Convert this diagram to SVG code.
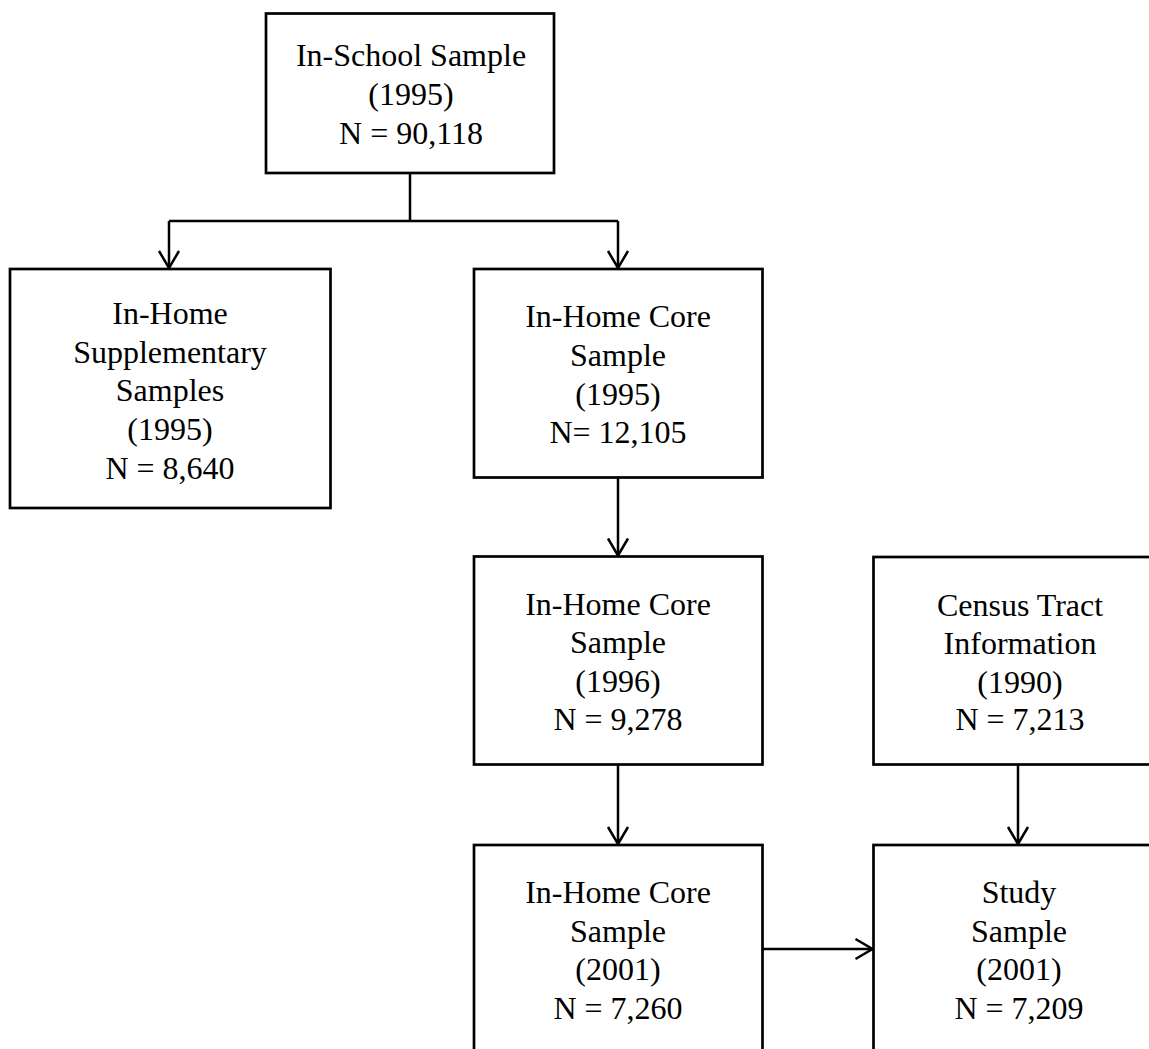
<svg xmlns="http://www.w3.org/2000/svg" width="1149" height="1049" viewBox="0 0 1149 1049">
<style>
.box{fill:#fff;stroke:#000;stroke-width:2.7}
.lbl{font-family:"Liberation Serif","Times New Roman",serif;font-size:32px;fill:#000;text-anchor:middle}
.con{fill:none;stroke:#000;stroke-width:2.5}
</style>
<defs>
<marker id="arr" markerUnits="userSpaceOnUse" markerWidth="24" markerHeight="24" viewBox="-20 -12 22 24" refX="0" refY="0" orient="auto">
<path d="M-17,-10 L0,0 L-17,10" fill="none" stroke="#000" stroke-width="2.5"/>
</marker>
</defs>
<rect width="1149" height="1049" fill="#fff"/>
<g id="connectors">
<path class="con" d="M410,173 V221"/>
<path class="con" d="M169,221 H618"/>
<path class="con" d="M169,221 V268" marker-end="url(#arr)"/>
<path class="con" d="M618,221 V268" marker-end="url(#arr)"/>
<path class="con" d="M618,477.5 V555.5" marker-end="url(#arr)"/>
<path class="con" d="M618,764.5 V844" marker-end="url(#arr)"/>
<path class="con" d="M1018,764.5 V844" marker-end="url(#arr)"/>
<path class="con" d="M762.5,949 H872.5" marker-end="url(#arr)"/>
</g>
<g id="in-school">
<rect class="box" x="266" y="13.5" width="288" height="159.5"/>
<text class="lbl" x="411" y="66">In-School Sample</text>
<text class="lbl" x="411" y="105">(1995)</text>
<text class="lbl" x="411" y="144">N = 90,118</text>
</g>
<g id="supplementary">
<rect class="box" x="10" y="269" width="320.5" height="239"/>
<text class="lbl" x="170" y="324">In-Home</text>
<text class="lbl" x="170" y="362.5">Supplementary</text>
<text class="lbl" x="170" y="401">Samples</text>
<text class="lbl" x="170" y="440">(1995)</text>
<text class="lbl" x="170" y="478.5">N = 8,640</text>
</g>
<g id="core1995">
<rect class="box" x="474" y="269" width="288.5" height="208.5"/>
<text class="lbl" x="618" y="327">In-Home Core</text>
<text class="lbl" x="618" y="366">Sample</text>
<text class="lbl" x="618" y="404.5">(1995)</text>
<text class="lbl" x="618" y="443">N= 12,105</text>
</g>
<g id="core1996">
<rect class="box" x="474" y="556.5" width="288.5" height="208"/>
<text class="lbl" x="618" y="614.5">In-Home Core</text>
<text class="lbl" x="618" y="653">Sample</text>
<text class="lbl" x="618" y="691.5">(1996)</text>
<text class="lbl" x="618" y="730">N = 9,278</text>
</g>
<g id="census">
<rect class="box" x="873.5" y="557" width="290" height="207.5"/>
<text class="lbl" x="1020" y="615.5">Census Tract</text>
<text class="lbl" x="1020" y="654">Information</text>
<text class="lbl" x="1020" y="692.5">(1990)</text>
<text class="lbl" x="1020" y="730">N = 7,213</text>
</g>
<g id="core2001">
<rect class="box" x="474" y="845" width="288.5" height="220"/>
<text class="lbl" x="618" y="903">In-Home Core</text>
<text class="lbl" x="618" y="941.5">Sample</text>
<text class="lbl" x="618" y="980">(2001)</text>
<text class="lbl" x="618" y="1018.5">N = 7,260</text>
</g>
<g id="study">
<rect class="box" x="873.5" y="845" width="290" height="220"/>
<text class="lbl" x="1019" y="903">Study</text>
<text class="lbl" x="1019" y="941.5">Sample</text>
<text class="lbl" x="1019" y="980">(2001)</text>
<text class="lbl" x="1019" y="1018.5">N = 7,209</text>
</g>
</svg>
